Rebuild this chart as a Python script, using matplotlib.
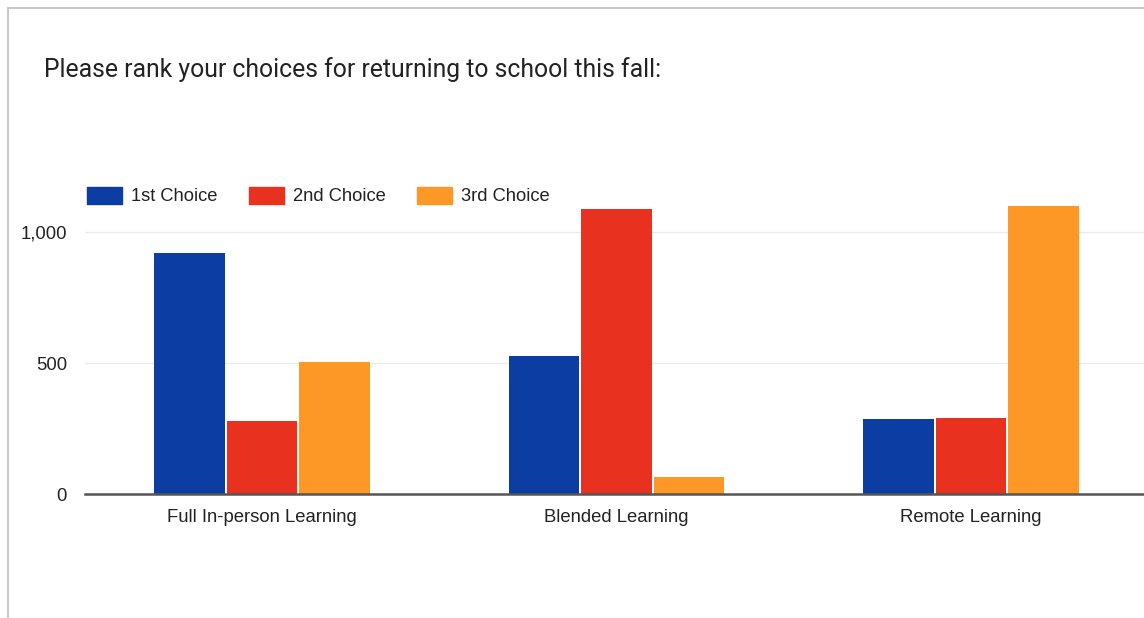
import numpy as np
import matplotlib.pyplot as plt
from matplotlib.patches import Rectangle, Patch

categories = ["Full In-person Learning", "Blended Learning", "Remote Learning"]
series_names = ["1st Choice", "2nd Choice", "3rd Choice"]
first_choice = [920, 527, 286]
second_choice = [279, 1088, 290]
third_choice = [505, 65, 1099]
colors = ["#0b3da3", "#e8321f", "#fd9827"]

plt.rcParams['font.family'] = ['Liberation Sans', 'DejaVu Sans']

fig = plt.figure(figsize=(11.44, 6.18), dpi=100)
ax = fig.add_axes([0.0743, 0.2006, 0.9292, 0.4874])

# card border
fig.patches.append(Rectangle((8 / 1144, -0.01), 1.02, (618 - 8) / 618 + 0.01,
                             transform=fig.transFigure, fill=False,
                             edgecolor="#c8c8c8", linewidth=1.5))

x = np.arange(len(categories))
step = 72.5 / 354.5
width = 70.5 / 354.5
for i, (vals, name) in enumerate(zip([first_choice, second_choice, third_choice], series_names)):
    ax.bar(x + (i - 1) * step, vals, width, color=colors[i], label=name, zorder=3)

ax.set_xlim(-0.5, 2.5)
ax.set_ylim(0, 1150)
ax.set_yticks([0, 500, 1000])
ax.set_yticklabels(["0", "500", "1,000"])
ax.set_xticks(x)
ax.set_xticklabels(categories)
ax.tick_params(axis='both', length=0, labelsize=13.3, colors="#222222")
ax.tick_params(axis='y', pad=13)
ax.tick_params(axis='x', pad=11)
ax.grid(axis='y', color="#ebebeb", linewidth=1, zorder=0)
for s in ["top", "right", "left"]:
    ax.spines[s].set_visible(False)
ax.spines["bottom"].set_color("#555555")
ax.spines["bottom"].set_linewidth(1.8)
ax.spines["bottom"].set_zorder(4)

handles = [Patch(color=c) for c in colors]
fig.legend(handles, series_names, loc="center left", bbox_to_anchor=(87 / 1144, 1 - 196 / 618),
           ncol=3, frameon=False, fontsize=13.2, handlelength=1.9, handleheight=1.04,
           handletextpad=0.5, columnspacing=1.7, borderpad=0, borderaxespad=0,
           labelcolor="#222222")

fig.text(44 / 1144, 1 - 70 / 618, "Please rank your choices for returning to school this fall:",
         fontsize=17.8, family=['Roboto', 'DejaVu Sans'], color="#222222", va="center", ha="left")

fig.savefig("out.png", dpi=100)
